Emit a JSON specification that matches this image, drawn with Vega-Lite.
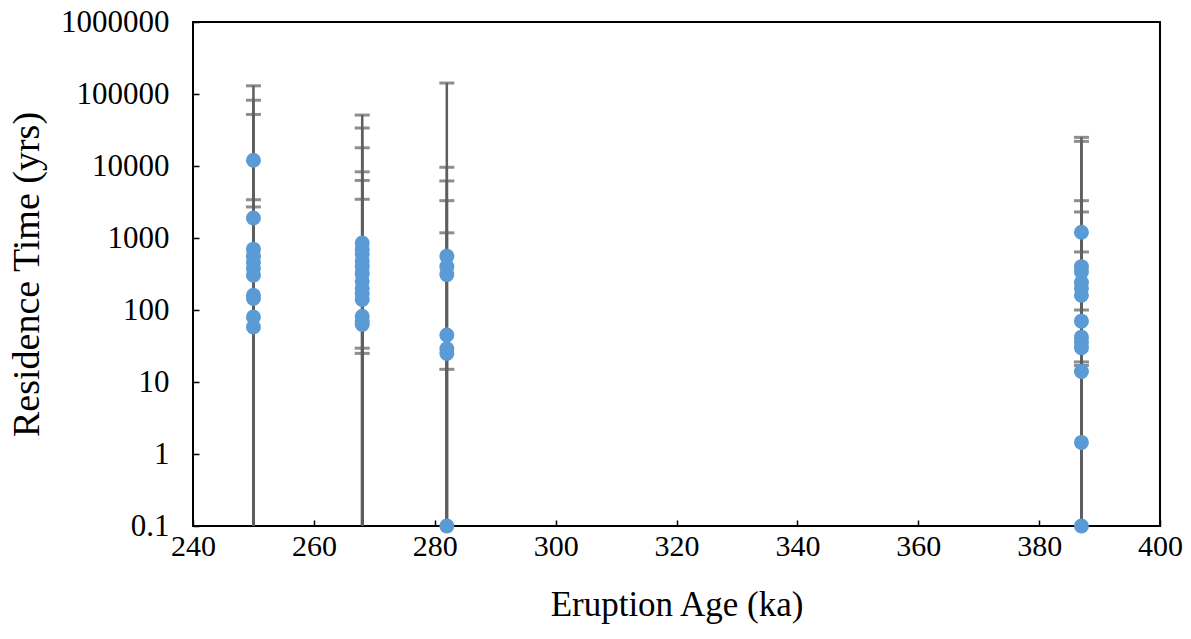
{
  "$schema": "https://vega.github.io/schema/vega-lite/v6.json",
  "width": 967,
  "height": 504,
  "autosize": "none",
  "padding": {"left": 193, "top": 22, "right": 31, "bottom": 113},
  "background": "white",
  "config": {
    "view": {"stroke": "black", "strokeWidth": 2},
    "font": "Liberation Serif",
    "axis": {
      "grid": false,
      "domain": false,
      "labelFont": "Liberation Serif",
      "titleFont": "Liberation Serif",
      "labelColor": "black",
      "titleColor": "black",
      "titleFontWeight": "normal",
      "tickColor": "black",
      "tickWidth": 1.5
    }
  },
  "data": {
    "values": [
      {"age": 250, "t": 12000, "hi": 130000, "lo": 0.01},
      {"age": 250, "t": 1900, "hi": 52000, "lo": 0.01},
      {"age": 250, "t": 700, "hi": 82000, "lo": 0.01},
      {"age": 250, "t": 560, "hi": 3400, "lo": 0.01},
      {"age": 250, "t": 460, "hi": 2700, "lo": 0.01},
      {"age": 250, "t": 380, "hi": 380, "lo": 0.01},
      {"age": 250, "t": 305, "hi": 305, "lo": 0.01},
      {"age": 250, "t": 160, "hi": 160, "lo": 0.01},
      {"age": 250, "t": 145, "hi": 145, "lo": 0.01},
      {"age": 250, "t": 80, "hi": 80, "lo": 0.01},
      {"age": 250, "t": 58, "hi": 58, "lo": 0.01},
      {"age": 268, "t": 850, "hi": 51000, "lo": 0.01},
      {"age": 268, "t": 700, "hi": 33700, "lo": 0.01},
      {"age": 268, "t": 600, "hi": 17900, "lo": 0.01},
      {"age": 268, "t": 480, "hi": 8300, "lo": 0.01},
      {"age": 268, "t": 400, "hi": 6300, "lo": 0.01},
      {"age": 268, "t": 320, "hi": 3450, "lo": 0.01},
      {"age": 268, "t": 250, "hi": 250, "lo": 0.01},
      {"age": 268, "t": 200, "hi": 200, "lo": 0.01},
      {"age": 268, "t": 170, "hi": 170, "lo": 0.01},
      {"age": 268, "t": 140, "hi": 140, "lo": 0.01},
      {"age": 268, "t": 82, "hi": 82, "lo": 29.5},
      {"age": 268, "t": 70, "hi": 70, "lo": 25},
      {"age": 268, "t": 63, "hi": 63, "lo": 0.01},
      {"age": 282, "t": 560, "hi": 9600, "lo": 0.01},
      {"age": 282, "t": 400, "hi": 6200, "lo": 0.01},
      {"age": 282, "t": 310, "hi": 3300, "lo": 0.01},
      {"age": 282, "t": 45, "hi": 1180, "lo": 0.01},
      {"age": 282, "t": 29, "hi": 29, "lo": 15},
      {"age": 282, "t": 25, "hi": 25, "lo": 0.01},
      {"age": 282, "t": 0.1, "hi": 142000, "lo": 0.01},
      {"age": 387, "t": 1200, "hi": 25000, "lo": 0.01},
      {"age": 387, "t": 400, "hi": 22000, "lo": 0.01},
      {"age": 387, "t": 340, "hi": 3300, "lo": 0.01},
      {"age": 387, "t": 240, "hi": 2300, "lo": 0.01},
      {"age": 387, "t": 200, "hi": 640, "lo": 0.01},
      {"age": 387, "t": 160, "hi": 160, "lo": 0.01},
      {"age": 387, "t": 70, "hi": 100, "lo": 0.01},
      {"age": 387, "t": 42, "hi": 42, "lo": 19},
      {"age": 387, "t": 36, "hi": 36, "lo": 17},
      {"age": 387, "t": 30, "hi": 30, "lo": 0.01},
      {"age": 387, "t": 14, "hi": 14, "lo": 0.01},
      {"age": 387, "t": 1.45, "hi": 1.45, "lo": 0.01},
      {"age": 387, "t": 0.1, "hi": 0.1, "lo": 0.01}
    ]
  },
  "encoding": {
    "x": {
      "field": "age",
      "type": "quantitative",
      "scale": {"domain": [240, 400], "nice": false, "zero": false},
      "axis": {
        "title": "Eruption Age (ka)",
        "values": [240, 260, 280, 300, 320, 340, 360, 380, 400],
        "labelFlush": false,
        "tickSize": -6,
        "labelFont": "Liberation Serif",
        "titleFont": "Liberation Serif",
        "labelFontSize": 30,
        "labelPadding": 11,
        "titleFontSize": 35,
        "titlePadding": 26
      }
    }
  },
  "layer": [
    {
      "mark": {"type": "rule", "clip": true, "color": "#5e5e5e", "strokeWidth": 2.5},
      "encoding": {
        "y": {
          "field": "lo",
          "type": "quantitative",
          "scale": {"type": "log", "domain": [0.1, 1000000], "nice": false},
          "axis": {
            "title": "Residence Time (yrs)",
            "values": [0.1, 1, 10, 100, 1000, 10000, 100000, 1000000],
            "labelExpr": "datum.value < 1 ? '0.1' : format(datum.value, 'd')",
            "tickSize": -6,
            "labelFont": "Liberation Serif",
            "titleFont": "Liberation Serif",
            "labelFontSize": 31,
            "labelPadding": 30,
            "titleFontSize": 38,
            "titlePadding": 14
          }
        },
        "y2": {"field": "hi"}
      }
    },
    {
      "transform": [{"filter": "datum.hi > datum.t"}],
      "mark": {"type": "tick", "clip": true, "orient": "horizontal", "size": 15, "thickness": 3, "color": "#5e5e5e"},
      "encoding": {"y": {"field": "hi", "type": "quantitative"}}
    },
    {
      "transform": [{"filter": "datum.lo >= 0.1"}],
      "mark": {"type": "tick", "clip": true, "orient": "horizontal", "size": 15, "thickness": 3, "color": "#5e5e5e"},
      "encoding": {"y": {"field": "lo", "type": "quantitative"}}
    },
    {
      "mark": {"type": "circle", "size": 225, "opacity": 1, "color": "#5B9BD5"},
      "encoding": {"y": {"field": "t", "type": "quantitative"}}
    }
  ]
}
